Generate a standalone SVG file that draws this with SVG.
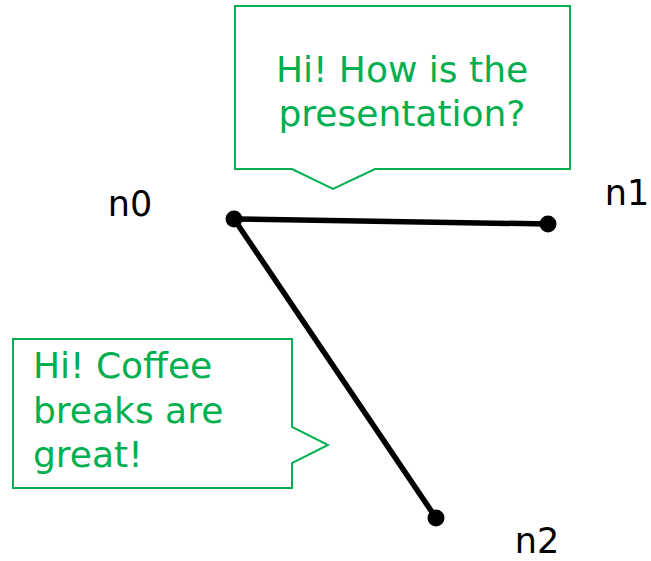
<svg xmlns="http://www.w3.org/2000/svg" width="651" height="561" viewBox="0 0 651 561">
  <style>
    .callout { fill: #ffffff; stroke: #00b050; stroke-width: 2; stroke-linejoin: miter; }
    .say { fill: #00b050; font-family: "DejaVu Sans", sans-serif; font-size: 36px; }
    .label { fill: #000000; font-family: "DejaVu Sans", sans-serif; font-size: 35px; }
    .edge { stroke: #000000; stroke-width: 5.5; fill: none; }
    .dot { fill: #000000; }
  </style>
  <rect width="651" height="561" fill="#ffffff"/>

  <!-- speech bubbles -->
  <g id="bubble-top">
    <path class="callout" d="M235,6 H570 V169 H375 L333,189 L292,169 H235 Z"/>
    <text class="say" x="402" y="82" text-anchor="middle">Hi! How is the</text>
    <text class="say" x="402" y="126" text-anchor="middle">presentation?</text>
  </g>
  <g id="bubble-left">
    <path class="callout" d="M13,339 H292 V427 L328,445 L292,463 V488 H13 Z"/>
    <text class="say" x="33" y="378">Hi! Coffee</text>
    <text class="say" x="33" y="423">breaks are</text>
    <text class="say" x="33" y="467">great!</text>
  </g>

  <!-- connectors -->
  <g id="edges">
    <line class="edge" x1="234" y1="219" x2="548" y2="224"/>
    <line class="edge" x1="234" y1="219" x2="436" y2="518"/>
  </g>

  <!-- nodes -->
  <g id="n0">
    <circle class="dot" cx="234" cy="219" r="8.5"/>
    <text class="label" x="130" y="216" text-anchor="middle">n0</text>
  </g>
  <g id="n1">
    <circle class="dot" cx="548" cy="224" r="8.5"/>
    <text class="label" x="627" y="205" text-anchor="middle">n1</text>
  </g>
  <g id="n2">
    <circle class="dot" cx="436" cy="518" r="8.5"/>
    <text class="label" x="537" y="553" text-anchor="middle">n2</text>
  </g>
</svg>
